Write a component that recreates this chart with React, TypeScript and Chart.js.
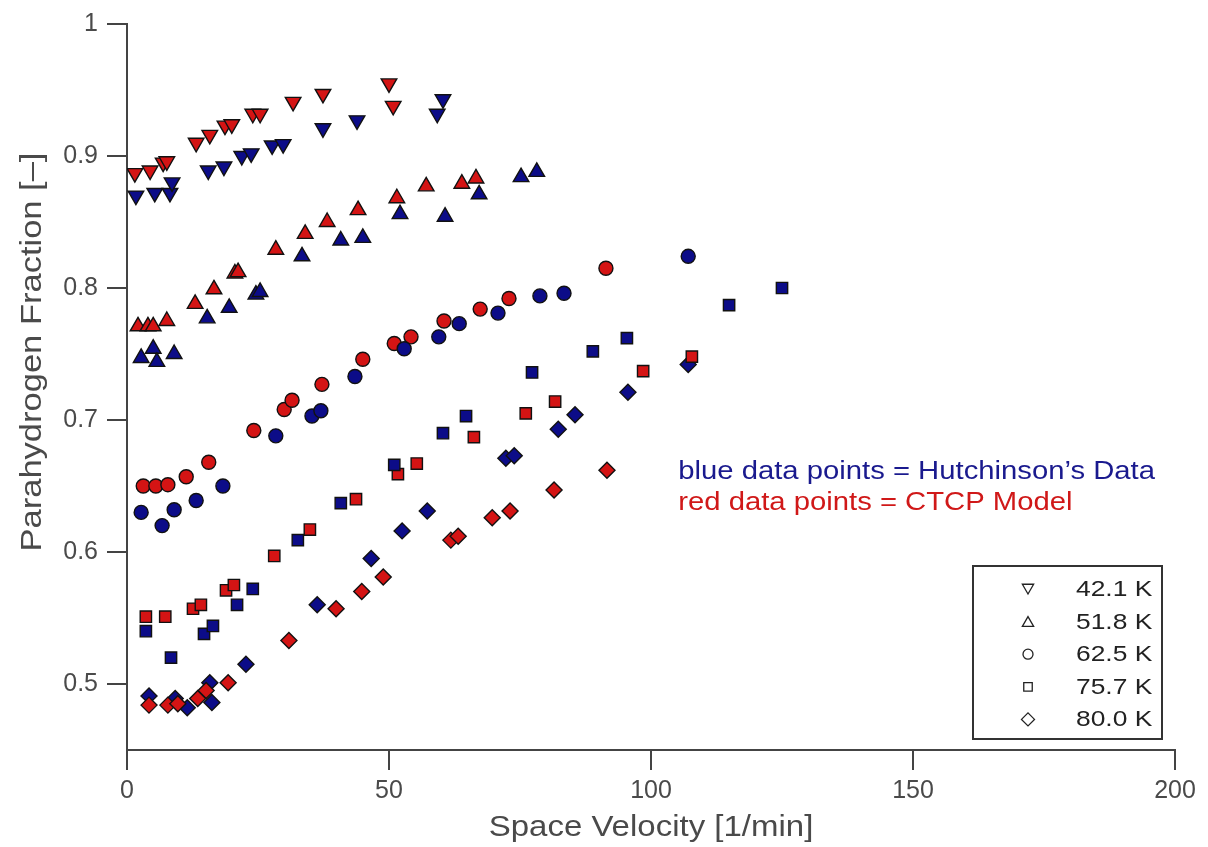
import React, { useEffect, useRef } from 'react';
import { Chart, registerables } from 'chart.js';
import { drawPoint } from 'chart.js/helpers';

Chart.register(...registerables);

// ---- data -------------------------------------------------------------
const temperatures = ['42.1 K', '51.8 K', '62.5 K', '75.7 K', '80.0 K'];

// Hutchinson's measurements (blue)
const hutch421X = [1.7, 5.3, 8.2, 8.6, 15.5, 18.5, 21.9, 23.7, 27.7, 29.8, 37.4, 43.9, 60.3, 59.2];
const hutch421Y = [0.870, 0.872, 0.872, 0.880, 0.889, 0.892, 0.900, 0.902, 0.908, 0.909, 0.921, 0.927, 0.943, 0.932];
const hutch518X = [2.7, 5.0, 5.7, 9.0, 15.3, 19.5, 24.6, 25.4, 33.4, 40.8, 45.0, 52.1, 60.7, 67.2, 75.2, 78.2];
const hutch518Y = [0.747, 0.754, 0.744, 0.750, 0.777, 0.785, 0.795, 0.797, 0.824, 0.836, 0.838, 0.856, 0.854, 0.871, 0.884, 0.888];
const hutch625X = [2.7, 6.7, 9.0, 13.2, 18.3, 28.4, 35.3, 37.0, 43.5, 52.9, 59.5, 63.4, 70.8, 78.8, 83.4, 107.1];
const hutch625Y = [0.630, 0.620, 0.632, 0.639, 0.650, 0.688, 0.703, 0.707, 0.733, 0.754, 0.763, 0.773, 0.781, 0.794, 0.796, 0.824];
const hutch757X = [3.6, 8.4, 14.7, 16.4, 21.0, 24.0, 32.6, 40.8, 51.0, 60.3, 64.7, 77.3, 88.9, 95.4, 114.9, 125.0];
const hutch757Y = [0.540, 0.520, 0.538, 0.544, 0.560, 0.572, 0.609, 0.637, 0.666, 0.690, 0.703, 0.736, 0.752, 0.762, 0.787, 0.800];
const hutch800X = [4.2, 9.2, 11.5, 15.8, 16.2, 22.7, 36.3, 46.6, 52.5, 57.3, 72.3, 73.9, 82.3, 85.5, 95.6, 107.1];
const hutch800Y = [0.491, 0.489, 0.482, 0.501, 0.486, 0.515, 0.560, 0.595, 0.616, 0.631, 0.671, 0.673, 0.693, 0.704, 0.721, 0.742];

// CTCP model results (red)
const ctcp421X = [1.5, 4.4, 6.9, 7.6, 13.2, 15.8, 18.7, 20.0, 24.0, 25.4, 31.7, 37.4, 50.0, 50.8];
const ctcp421Y = [0.887, 0.889, 0.895, 0.896, 0.910, 0.916, 0.923, 0.924, 0.932, 0.932, 0.941, 0.947, 0.955, 0.938];
const ctcp518X = [2.1, 4.0, 5.0, 7.6, 13.0, 16.6, 20.6, 21.2, 28.4, 34.0, 38.2, 44.1, 51.5, 57.1, 63.9, 66.6];
const ctcp518Y = [0.771, 0.771, 0.771, 0.775, 0.788, 0.799, 0.811, 0.812, 0.829, 0.841, 0.850, 0.859, 0.868, 0.877, 0.879, 0.883];
const ctcp625X = [3.1, 5.5, 7.8, 11.3, 15.6, 24.2, 30.0, 31.5, 37.2, 45.0, 51.0, 54.2, 60.5, 67.4, 72.9, 91.4];
const ctcp625Y = [0.650, 0.650, 0.651, 0.657, 0.668, 0.692, 0.708, 0.715, 0.727, 0.746, 0.758, 0.763, 0.775, 0.784, 0.792, 0.815];
const ctcp757X = [3.6, 7.3, 12.6, 14.1, 18.9, 20.4, 28.1, 34.9, 43.7, 51.7, 55.3, 66.2, 76.1, 81.7, 98.5, 107.8];
const ctcp757Y = [0.551, 0.551, 0.557, 0.560, 0.571, 0.575, 0.597, 0.617, 0.640, 0.659, 0.667, 0.687, 0.705, 0.714, 0.737, 0.748];
const ctcp800X = [4.2, 7.8, 9.7, 13.5, 15.1, 19.3, 30.9, 39.9, 44.8, 48.9, 61.8, 63.2, 69.7, 73.1, 81.5, 91.6];
const ctcp800Y = [0.484, 0.484, 0.485, 0.489, 0.495, 0.501, 0.533, 0.557, 0.570, 0.581, 0.609, 0.612, 0.626, 0.631, 0.647, 0.662];

const xTicks = [0, 50, 100, 150, 200];
const yTicks = [0.5, 0.6, 0.7, 0.8, 0.9, 1.0];

const xTitle = 'Space Velocity [1/min]';
const yTitle = 'Parahydrogen Fraction [\u2013]';
const noteBlue = 'blue data points = Hutchinson\u2019s Data';
const noteRed = 'red data points = CTCP Model';

// ---- styling ----------------------------------------------------------
const FONT = '"Liberation Sans", Arial, Helvetica, sans-serif';
const BLUE = '#0c0c88';
const RED = '#d41414';
const AXIS = '#444444';
const TEXT = '#4a4a4a';

const markerStyle = ['triangle', 'triangle', 'circle', 'rect', 'rectRot'];
const markerRotation = [180, 0, 0, 0, 0];
const markerRadius = [9, 9, 7, 8, 8];
const legendRadius = [6.5, 6.5, 5, 6, 6.5];

const toPoints = (xs: number[], ys: number[]) => xs.map((x, i) => ({ x, y: ys[i] }));

const hutchSeries = [
  toPoints(hutch421X, hutch421Y),
  toPoints(hutch518X, hutch518Y),
  toPoints(hutch625X, hutch625Y),
  toPoints(hutch757X, hutch757Y),
  toPoints(hutch800X, hutch800Y),
];
const ctcpSeries = [
  toPoints(ctcp421X, ctcp421Y),
  toPoints(ctcp518X, ctcp518Y),
  toPoints(ctcp625X, ctcp625Y),
  toPoints(ctcp757X, ctcp757Y),
  toPoints(ctcp800X, ctcp800Y),
];

// stacking: smaller `order` is painted later (on top)
const hutchOrder = [1, 3, 4, 6, 9];
const ctcpOrder = [0, 2, 5, 7, 8];

const makeDataset = (label: string, data: { x: number; y: number }[], color: string, i: number, order: number) => ({
  label,
  data,
  order,
  pointStyle: markerStyle[i],
  rotation: markerRotation[i],
  pointRadius: markerRadius[i],
  pointHoverRadius: markerRadius[i],
  backgroundColor: color,
  borderColor: '#111111',
  borderWidth: 1.4,
  showLine: false,
});

// text drawn with a slight horizontal stretch
const wideText = (ctx: CanvasRenderingContext2D, text: string, x: number, y: number, stretch: number, align: CanvasTextAlign) => {
  ctx.save();
  ctx.translate(x, y);
  ctx.scale(stretch, 1);
  ctx.textAlign = align;
  ctx.fillText(text, 0, 0);
  ctx.restore();
};

// axis titles, notes and the symbol key
const decorations = {
  id: 'decorations',
  afterDraw(chart: any) {
    const { ctx, chartArea, scales } = chart;
    ctx.save();

    // axis titles
    ctx.fillStyle = TEXT;
    ctx.font = `30px ${FONT}`;
    ctx.textBaseline = 'middle';
    wideText(ctx, xTitle, (chartArea.left + chartArea.right) / 2, 828, 1.1, 'center');
    ctx.save();
    ctx.translate(33, 352);
    ctx.rotate(-Math.PI / 2);
    wideText(ctx, yTitle, 0, 0, 1.15, 'center');
    ctx.restore();

    // colour notes
    const nx = scales.x.getPixelForValue(105.2);
    const ny = scales.y.getPixelForValue(0.655);
    ctx.font = `25px ${FONT}`;
    ctx.textBaseline = 'alphabetic';
    ctx.fillStyle = '#1a1a8e';
    wideText(ctx, noteBlue, nx, ny, 1.17, 'left');
    ctx.fillStyle = '#d01818';
    wideText(ctx, noteRed, nx, ny + 31, 1.17, 'left');

    // symbol key
    const boxRight = chartArea.right - 13;
    const boxBottom = chartArea.bottom - 11;
    const boxW = 189;
    const boxH = 173;
    const boxLeft = boxRight - boxW;
    const boxTop = boxBottom - boxH;
    ctx.fillStyle = '#ffffff';
    ctx.fillRect(boxLeft, boxTop, boxW, boxH);
    ctx.strokeStyle = '#333333';
    ctx.lineWidth = 2;
    ctx.strokeRect(boxLeft, boxTop, boxW, boxH);

    ctx.font = `22px ${FONT}`;
    ctx.textBaseline = 'middle';
    temperatures.forEach((t, i) => {
      const rowY = boxTop + 23 + i * 32.6;
      ctx.fillStyle = '#ffffff';
      ctx.strokeStyle = '#222222';
      ctx.lineWidth = 1.3;
      drawPoint(
        ctx,
        { pointStyle: markerStyle[i], radius: legendRadius[i], rotation: markerRotation[i], borderWidth: 1.3 } as any,
        boxLeft + 55,
        rowY + (i === 0 ? -1.5 : i === 1 ? 1.5 : 0)
      );
      ctx.fillStyle = '#222222';
      wideText(ctx, t, boxLeft + 103, rowY + 1, 1.2, 'left');
    });

    ctx.restore();
  },
};

export default function App() {
  const canvasRef = useRef<HTMLCanvasElement | null>(null);

  useEffect(() => {
    if (!canvasRef.current) return;
    const datasets: any[] = [];
    temperatures.forEach((t, i) => {
      datasets.push(makeDataset(`${t} Hutchinson`, hutchSeries[i], BLUE, i, hutchOrder[i]));
      datasets.push(makeDataset(`${t} CTCP`, ctcpSeries[i], RED, i, ctcpOrder[i]));
    });

    const axisCommon = {
      type: 'linear' as const,
      grid: {
        display: true,
        drawOnChartArea: false,
        drawTicks: true,
        tickLength: 20,
        color: AXIS,
        lineWidth: 2,
      },
      border: { display: true, color: AXIS, width: 2 },
    };

    const chart = new Chart(canvasRef.current, {
      type: 'scatter',
      data: { datasets },
      plugins: [decorations],
      options: {
        responsive: false,
        animation: false,
        devicePixelRatio: 1,
        layout: { padding: { left: 0, top: 17, right: 33, bottom: 0 } },
        plugins: {
          legend: { display: false },
          tooltip: { enabled: false },
        },
        scales: {
          x: {
            ...axisCommon,
            min: 0,
            max: 200,
            afterBuildTicks: (s: any) => {
              s.ticks = xTicks.map((v) => ({ value: v }));
            },
            afterFit: (s: any) => {
              s.height = 97;
            },
            ticks: {
              color: TEXT,
              font: { family: FONT, size: 25 },
              padding: 6,
              maxRotation: 0,
              callback: (v: any) => String(v),
            },
          },
          y: {
            ...axisCommon,
            min: 0.45,
            max: 1,
            afterBuildTicks: (s: any) => {
              s.ticks = yTicks.map((v) => ({ value: v }));
            },
            afterFit: (s: any) => {
              s.width = 127;
            },
            ticks: {
              color: TEXT,
              font: { family: FONT, size: 25 },
              padding: 9,
              callback: (v: any) => (Number(v) === 1 ? '1' : Number(v).toFixed(1)),
            },
          },
        },
      } as any,
    });

    return () => chart.destroy();
  }, []);

  return (
    <div style={{ position: 'absolute', left: 0, top: 0, width: 1208, height: 847, background: '#ffffff' }}>
      <canvas ref={canvasRef} width={1208} height={847} style={{ display: 'block' }} />
    </div>
  );
}
